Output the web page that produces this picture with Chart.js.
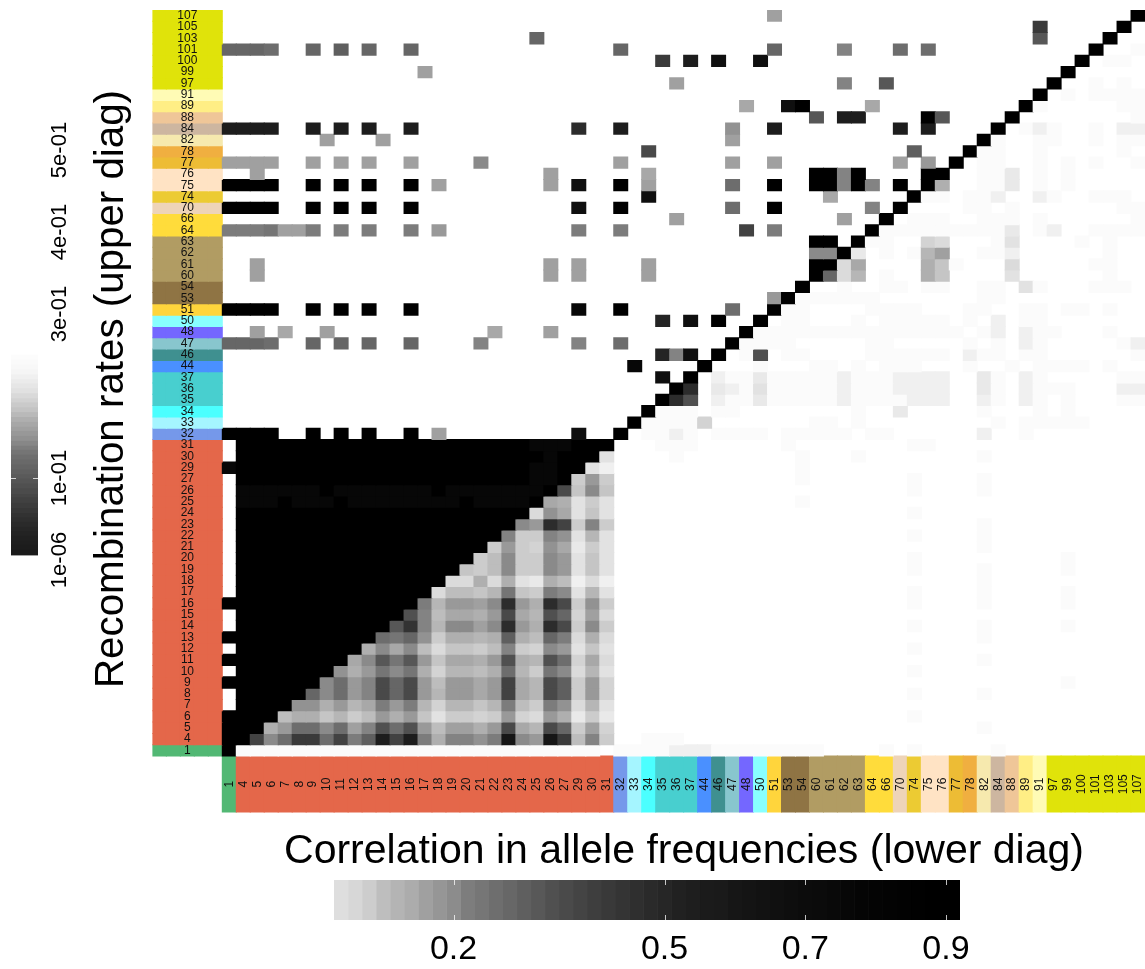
<!DOCTYPE html>
<html>
<head>
<meta charset="utf-8">
<title>Recombination and allele frequency correlation</title>
<script src="https://cdn.jsdelivr.net/npm/chart.js@4"></script>
<style>
    html, body { margin: 0; padding: 0; background: #fff; overflow: hidden; }
    canvas { position: absolute; }
</style>
</head>
<body>
<canvas id="main" width="1145" height="969" style="left:0;top:0"></canvas>
<canvas id="rateLegend" width="90" height="520" style="left:0;top:100px"></canvas>
<canvas id="corrLegend" width="700" height="95" style="left:300px;top:870px"></canvas>
<script>
const positions = ["1","4","5","6","7","8","9","10","11","12","13","14","15","16","17","18","19","20","21","22","23","24","25","26","27","29","30","31",
    "32","33","34","35","36","37","44","46","47","48","50","51","53","54","60","61","62","63","64","66","70","74","75","76","77","78","82","84","88","89","91",
    "97","99","100","101","103","105","107"];

const red = "#e4674a", teal = "#48cfcf", khaki = "#b19c63", brown = "#8f7444", lime = "#e0e30a";
const groupColors = ["#52b874", red,red,red,red,red,red,red,red,red,red,red,red,red,red,red,red,red,red,red,red,red,red,red,red,red,red,red,
    "#7598ea","#a5f5ff","#4bffff",teal,teal,teal,"#4a90ff","#3f9090","#88c6ce","#7467ff","#88ffff","#ffd53c",brown,brown,khaki,khaki,khaki,khaki,
    "#ffdc3b","#ffdc3b","#eed4b8","#eccb33","#ffe3c4","#ffe3c4","#edbc35","#f0af40","#f6e9ae","#cdb6a0","#efc698","#ffee85","#fffbb5",
    lime,lime,lime,lime,lime,lime,lime];

// one string per row, top row (107) first, one base 36 level per column, 0 = white, z = black
const rows = [
    "0000000000 0000000000 0000000000 000000000d 0000000000 0000000000 00000z",
    "0000000000 0000000000 0000000000 0000000000 0000000000 00000000r0 0000z0",
    "0000000000 0000000000 00l0000000 0000000000 0000000000 00000000n0 000z00",
    "lllk00l0m0 l00l000000 00000000l0 000000000l 0000h000k0 k000000000 00z001",
    "0000000000 0000000000 0000000000 0r0v0x00x0 0000000000 0000000000 0z0110",
    "0000000000 0000d00000 0000000000 0000000000 0000000000 0000000000 z00000",
    "0000000000 0000000000 0000000000 00d0000000 0000h00n00 000000000z 001010",
    "0000000000 0000000000 0000000000 0000000000 0000000000 00000000z0 101111",
    "0000000000 0000000000 0000000000 0000000c00 xz0000c000 0000000z10 000011",
    "0000000000 0000000000 0000000000 0000000000 00n0vv0000 zn0000z000 000001",
    "vvvv00v0v0 v00v000000 00000t00v0 000000f00v 00000000v0 v0000z0121 001022",
    "0000000d00 0d00000000 0000000000 000000d000 0000000000 0000z10011 001011",
    "0000000000 0000000000 0000000000 p000000000 000000000m 000z110010 000010",
    "dddd00d0d0 d00d0000g0 00000000d0 000000d00d 00000000d0 e0z0110010 101001",
    "00d0000000 0000000000 000d000000 c000000000 00zzhz0000 zz00113010 100000",
    "zzzz00z0z0 z00z0d0000 000d0x00z0 d00000k00z 00zzhzh0z0 zb00113010 100000",
    "0000000000 0000000000 0000000000 x000000000 000c00000z 1101120021 001110",
    "zzzz00z0z0 z00z000000 00000x00z0 000000k00z 000000h0z0 0001101000 000011",
    "0000000000 0000000000 0000000000 00d0000000 0000d00z01 1100111010 000001",
    "iiijddi0i0 i00i0e0000 00000i00i0 0000000q0i 000000z111 1111113012 001111",
    "0000000000 0000000000 0000000000 0000000000 00zz0z1100 6500014000 010100",
    "0000000000 0000000000 0000000000 0000000000 00ggz30101 ad00112000 000100",
    "00d0000000 0000000000 000d0d0000 d000000000 00zz5c0000 b810005000 001100",
    "00d0000000 0000000000 000d0d0000 d000000000 00zl5a0100 b800004000 000100",
    "0000000000 0000000000 0000000000 0000000000 0z00100110 1100110410 001110",
    "0000000000 0000000000 0000000000 000000000e z111111000 0000110000 000000",
    "zzzz00z0z0 z00z000000 00000y00z0 000000k00z 1100001111 0001100110 110100",
    "0000000000 0000000000 0000000000 0u0x0z00z0 1100010111 1101020110 000000",
    "00d0c00d00 000000000c 000d000000 0000000z11 1111111111 1110120211 000100",
    "lllk00l0l0 l00l0000h0 00000h00k0 000000z111 1000001100 0001010210 000012",
    "0000000000 0000000000 0000000000 0uhx0z01o0 1100001111 1102110110 000001",
    "0000000000 0000000000 000000000y 0000z00010 0011010111 0001001011 110100",
    "0000000000 0000000000 0000000000 0x0z021131 1111211122 2200310210 000011",
    "0000000000 0000000000 0000000000 00zt032141 1111211122 2200310211 100022",
    "0000000000 0000000000 0000000000 0zto021131 1111211112 2200210210 100011",
    "0000000000 0000000000 0000000000 z111011000 0000010030 0000100010 100000",
    "0000000000 0000000000 000000000z 1111600000 0011010000 0000010111 110000",
    "zzzz00z0z0 z00z0d0000 00000x00z0 1121011110 1111101100 0000200100 000000",
    "0zzzzzzzzz zzzzzzzzzz zzyyyzzz00 0111000000 1000000001 1000000000 000000",
    "0zzzzzzzzz zzzzzzzzzz zzzyzzz400 0010000000 0100010000 0000100000 000000",
    "yzzzzzzzzz zzzzzzzzzz zzyyzz4200 0000000000 0100000000 0000000000 000000",
    "0zzzzzzzzz zzzzzzzzzz zzyyz7e700 0000000000 0100000001 0000100000 000000",
    "0yyyyyyzyy yyyyyzyyyy yyyzp8g800 0000000000 0000000001 0000100000 000000",
    "0yyyzyyyzy yyyyyyyzyy yyzcb47400 0000000000 0100000000 0000000000 000000",
    "0zzzzzzzzz zzzzzzzzzz zz5fc48400 0000000000 0000000001 0000000000 000000",
    "0zzzzzzzzz zzzzzzzzzz zgetq7h700 0000000000 0000000000 0000100000 000000",
    "0zzzzzzzzz zzzzzzzzzz h77hf4a400 0000000000 0000000001 0000100000 000000",
    "0zzzzzzzzz zzzzzzzzz7 e76fc37400 0000000000 0000000000 0000100000 000000",
    "0zzzzzzzzz zzzzzzzz79 g77ge48400 0000000000 0000000001 0000000000 100000",
    "0zzzzzzzzz zzzzzzz879 g77ge48400 0000000000 0000000001 0000100000 100000",
    "0zzzzzzzzz zzzzzz55b5 b43b925200 0000000000 0000000000 0000100000 000000",
    "0zzzzzzzzz zzzzz5998a j87ig4a400 0000000000 0000000001 0000100000 100000",
    "zzzzzzzzzz zzzziaeedg tebtp7f700 0000000000 0000000001 0000100000 100000",
    "0zzzzzzzzz zzzoh9ccbe pcaol6d500 0000000000 0000000000 0000000000 000000",
    "0zzzzzzzzz zznshaggdg tebtp7g700 0000000000 0000000001 0000100000 100000",
    "zzzzzzzzzz zkjlf7bbab mb9li5b500 0000000000 0000000000 0000100000 000000",
    "0zzzzzzzzz bgcg958879 h76ge48400 0000000000 0000000001 0000000000 000000",
    "zzzzzzzzzc gnjne8ccbe obaok6c500 0000000000 0000000000 0000100000 000000",
    "0zzzzzzzfb ejgjb6aa9b ka7jg5a400 0000000000 0000000001 0000000000 000000",
    "zzzzzzzgke hplpe9eece qcapm7e600 0000000000 0000000000 0000000000 100000",
    "0zzzzzlgke hplpeaeece qcapm7e600 0000000000 0000000001 0000100000 000000",
    "0zzzzffbea cieia6aa8a i97if5a400 0000000000 0000000000 0000000000 000000",
    "zzzz9bb8a7 9ebe847767 e65eb37300 0000000000 0000000001 0000000000 000000",
    "zzzbekkgkd hokoe9ddbe pcapl7d600 0000000000 0000000000 0000100000 000000",
    "zzqgkrrkqi mvqvibhhfi wgewr9h700 1110000000 0000000000 0000000000 000000",
    "z111111111 1111111111 1111111011 1122211111 1110000101 0000010000 000000"
];

// left colour key, recombination rate, bottom to top
const rateBreaks = [0.006,0.012,0.018,0.023,0.029,0.035,0.041,0.046,0.052,0.058,0.064,0.07,0.076,0.081,0.087,0.093,0.099,0.104,0.11,0.116,
    0.122,0.128,0.134,0.139,0.145,0.151,0.157,0.162,0.168,0.174,0.18,0.186,0.192,0.197,0.203,0.209,0.215,0.22,0.226,0.232,0.238,0.244,0.25];
const rateLevels = [31.4,31.2,30.9,30.6,30.2,29.8,29.2,28.7,28.1,27.5,26.8,26.1,25.4,24.7,24,23.3,22.6,22,21.3,20.6,19.9,18.9,17.8,16.5,15.1,
    14.1,13,12.1,11,9.6,8.2,7.3,6.2,5.2,4.1,3.4,2.7,2.1,1.4,1,0.7,0.4];
const rateTicks = [0.000001, 0.1, 0.3, 0.4, 0.5];
const rateTickLabels = ["1e-06", "1e-01", "3e-01", "4e-01", "5e-01"];

// bottom colour key, correlation
const corrBreaks = [0.03,0.05,0.07,0.09,0.11,0.13,0.15,0.17,0.19,0.21,0.23,0.25,0.27,0.29,0.31,0.33,0.35,0.37,0.39,0.41,0.43,0.45,0.47,
    0.49,0.51,0.53,0.55,0.57,0.59,0.61,0.63,0.65,0.67,0.69,0.71,0.73,0.75,0.77,0.79,0.81,0.83,0.85,0.87,0.89,0.91,0.92];
const corrLevels = [4.5,5.5,6.9,8.9,10.3,11.4,13,14.4,15.8,17.8,18.8,19.9,20.9,21.9,22.9,24,24.8,25.7,26.5,27.2,27.8,28.5,29.2,
    29.8,30.5,30.9,31.3,31.5,32,32.2,32.5,32.8,33.1,33.3,33.5,33.7,34,34.3,34.4,34.6,34.7,34.8,35,35,35];
const corrTicks = [0.2, 0.5, 0.7, 0.9];

const stripCols = 5;
const fontName = "'Liberation Sans', Arial, sans-serif";

function shade(level) {
    const g = Math.round(255 - level * 255 / 35);
    return `rgb(${g},${g},${g})`;
}

function rowDataset(line, rowIndex) {
    const cells = line.replace(/ /g, "").split("").map(c => parseInt(c, 36));
    const span = [rowIndex, rowIndex + 1];
    const data = [], colors = [];
    for (let i = 0; i < stripCols; i++) {
        data.push(span);
        colors.push(groupColors[rowIndex]);
    }
    cells.forEach(level => {
        data.push(level > 0 ? span : null);
        // level 1 is barely off white
        colors.push(shade(level === 1 ? 0.6 : level));
    });
    return { data: data, backgroundColor: colors };
}

const blanks = new Array(stripCols).fill("");
const columns = blanks.concat(positions);

const mainSets = rows.map((line, t) => rowDataset(line, rows.length - 1 - t));
// strip under the matrix
mainSets.push({
    data: blanks.map(() => null).concat(positions.map(() => [-stripCols, 0])),
    backgroundColor: blanks.map(() => "#fff").concat(groupColors)
});

const barOpts = { grouped: false, barPercentage: 1, categoryPercentage: 1 };

const textPlugin = {
    id: "matrixText",
    afterDatasetsDraw(chart) {
        const ctx = chart.ctx, x = chart.scales.x, y = chart.scales.y;
        ctx.save();
        ctx.fillStyle = "#111";
        ctx.textAlign = "center";
        ctx.textBaseline = "middle";
        ctx.font = `12px ${fontName}`;
        positions.forEach((label, i) => {
            ctx.fillText(label, x.getPixelForValue(2), y.getPixelForValue(i + 0.5));
            ctx.save();
            ctx.translate(x.getPixelForValue(i + stripCols), y.getPixelForValue(-2.5));
            ctx.rotate(-Math.PI / 2);
            ctx.fillText(label, 0, 0);
            ctx.restore();
        });
        ctx.fillStyle = "#000";
        ctx.font = `41px ${fontName}`;
        ctx.fillText("Correlation in allele frequencies (lower diag)", 684, 851.5, 802);
        ctx.save();
        ctx.translate(112, 389);
        ctx.rotate(-Math.PI / 2);
        ctx.fillText("Recombination rates (upper diag)", 0, 0, 598);
        ctx.restore();
        ctx.restore();
    }
};

new Chart(document.getElementById("main"), {
    type: "bar",
    data: { labels: columns, datasets: mainSets },
    options: {
        responsive: false,
        animation: false,
        events: [],
        datasets: { bar: Object.assign({ inflateAmount: 0.5 }, barOpts) },
        layout: { padding: { left: 152.4, right: 0, top: 10, bottom: 156.5 } },
        plugins: { legend: { display: false }, tooltip: { enabled: false } },
        scales: {
            x: { display: false },
            y: { display: false, type: "linear", min: -stripCols, max: rows.length }
        }
    },
    plugins: [textPlugin]
});

// small white marks on the edges of a colour key, one per tick
const keyMarks = {
    id: "keyMarks",
    afterDatasetsDraw(chart) {
        const ctx = chart.ctx, a = chart.chartArea;
        ctx.save();
        ctx.strokeStyle = "rgba(255,255,255,0.75)";
        ctx.lineWidth = 1;
        if (chart.options.indexAxis === "y") {
            corrTicks.forEach(v => {
                const px = Math.round(chart.scales.x.getPixelForValue(v)) + 0.5;
                ctx.beginPath();
                ctx.moveTo(px, a.top); ctx.lineTo(px, a.top + 5);
                ctx.moveTo(px, a.bottom - 5); ctx.lineTo(px, a.bottom);
                ctx.stroke();
            });
        } else {
            const py = Math.round(chart.scales.y.getPixelForValue(0.1)) + 0.5;
            ctx.beginPath();
            ctx.moveTo(a.left, py); ctx.lineTo(a.left + 5, py);
            ctx.moveTo(a.right - 5, py); ctx.lineTo(a.right, py);
            ctx.stroke();
        }
        ctx.restore();
    }
};

new Chart(document.getElementById("rateLegend"), {
    type: "bar",
    data: {
        labels: [""],
        datasets: rateLevels.map((level, i) => ({
            data: [[rateBreaks[i], rateBreaks[i + 1]]],
            backgroundColor: shade(level)
        }))
    },
    options: {
        responsive: false,
        animation: false,
        events: [],
        datasets: { bar: barOpts },
        layout: { padding: { left: 11, right: 0, top: 50, bottom: 60 } },
        plugins: { legend: { display: false }, tooltip: { enabled: false } },
        scales: {
            x: { display: false },
            y: {
                type: "linear",
                position: "right",
                min: 0,
                max: 0.5,
                grid: { display: false, drawTicks: false },
                border: { display: false },
                afterBuildTicks: scale => { scale.ticks = rateTicks.map(v => ({ value: v })); },
                afterFit: scale => { scale.width = 52; },
                ticks: {
                    color: "#000",
                    padding: -6,
                    minRotation: 90,
                    maxRotation: 90,
                    crossAlign: "center",
                    font: { family: fontName, size: 22 },
                    callback: v => rateTickLabels[rateTicks.indexOf(v)]
                }
            }
        }
    },
    plugins: [keyMarks]
});

new Chart(document.getElementById("corrLegend"), {
    type: "bar",
    data: {
        labels: [""],
        datasets: corrLevels.map((level, i) => ({
            data: [[corrBreaks[i], corrBreaks[i + 1]]],
            backgroundColor: shade(level)
        }))
    },
    options: {
        indexAxis: "y",
        responsive: false,
        animation: false,
        events: [],
        datasets: { bar: barOpts },
        layout: { padding: { left: 34, right: 40, top: 10, bottom: 0 } },
        plugins: { legend: { display: false }, tooltip: { enabled: false } },
        scales: {
            y: { display: false },
            x: {
                type: "linear",
                min: 0.03,
                max: 0.92,
                grid: { display: false, drawTicks: false },
                border: { display: false },
                afterBuildTicks: scale => { scale.ticks = corrTicks.map(v => ({ value: v })); },
                afterFit: scale => { scale.height = 45; },
                ticks: {
                    color: "#000",
                    padding: 9,
                    maxRotation: 0,
                    autoSkip: false,
                    font: { family: fontName, size: 34 },
                    callback: v => v.toFixed(1)
                }
            }
        }
    },
    plugins: [keyMarks]
});
</script>
</body>
</html>
